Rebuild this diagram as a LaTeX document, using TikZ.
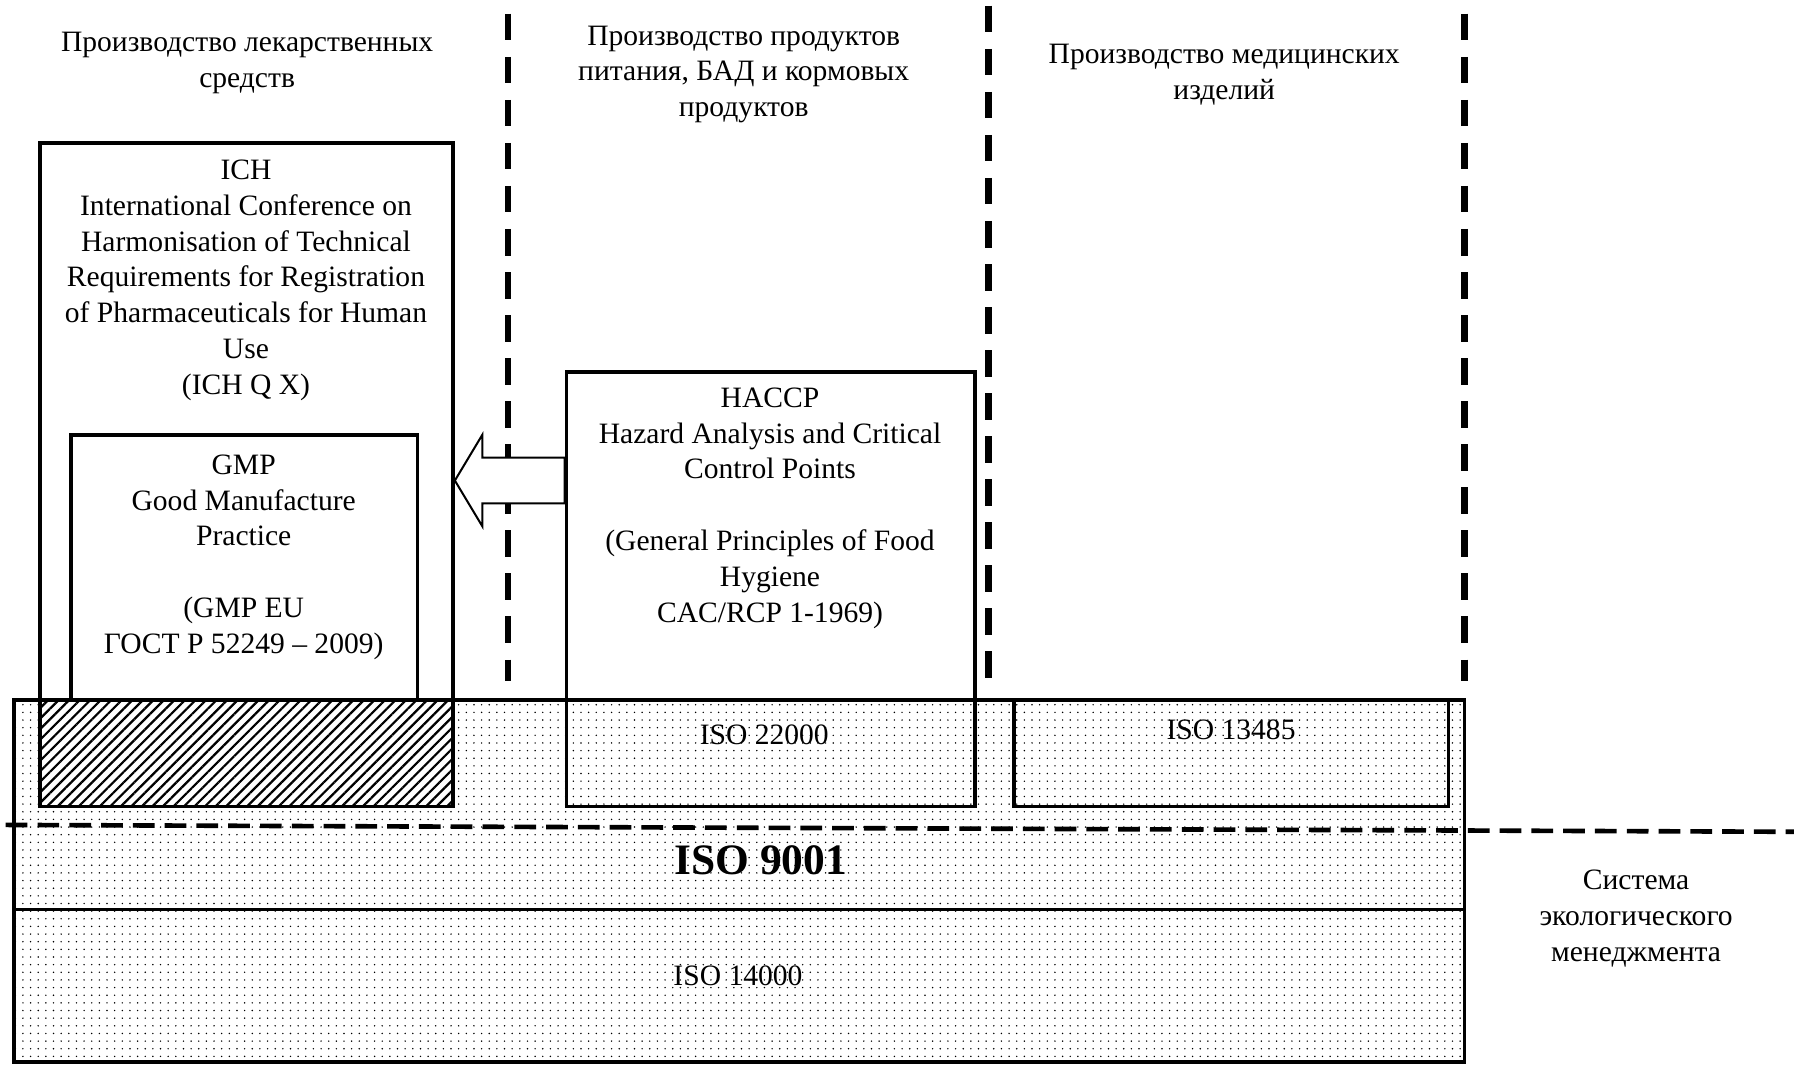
\documentclass[tikz,border=0pt]{standalone}
\usepackage{fontspec}
\setmainfont{Liberation Serif}
\usetikzlibrary{patterns.meta,fit,calc}

\tikzset{
    box/.style={draw, line width=0.9pt, inner sep=0pt},
    txt/.style={align=center, inner sep=0pt, font=\fontsize{7.35}{8.9}\selectfont},
    dotfill/.style={pattern={Dots[distance=1.9pt, radius=0.2pt]}},
    hatchfill/.style={pattern={Lines[angle=45, distance=1.85pt, line width=0.55pt]}},
    vsep/.style={line width=1.7pt, dash pattern=on 6.6pt off 4.1pt},
    hsep/.style={line width=1.15pt, dash pattern=on 5.4pt off 2.5pt}
}

\begin{document}
\begin{tikzpicture}[x=0.01cm, y=-0.01cm]
    \useasboundingbox (0,0) rectangle (1568,930);

    % Quality management base
    \path[dotfill] (12,612) rectangle (1280,928);
    \path[fill=white, postaction={hatchfill}] (35,612) rectangle (396,705);

    % Boxes
    \node[box, fit={(12,612) (1280,795)}] (iso9001) {};
    \node[box, fit={(12,795) (1280,928)}] (iso14000) {};
    \node[box, fit={(35,125) (396,705)}] (ich) {};
    \node[box, fit={(62,380) (365,612)}] (gmp) {};
    \node[box, fit={(495,325) (852,705)}] (haccp) {};
    \node[box, fit={(886,612) (1266,705)}] (iso13485) {};

    % Branch separators
    \foreach \x/\y in {444/12, 864/5, 1280/12} {
        \draw[vsep] (\x,\y) -- (\x,595);
    }

    % Hollow arrow HACCP -> ICH
    \coordinate (arrS) at (haccp.west |- 0,420);
    \coordinate (arrE) at (ich.east |- 0,420);
    \draw[fill=white, line width=0.5pt] ($(arrS)+(0,-20)$) -- ($(arrE)+(24,-20)$)
        -- ($(arrE)+(24,-40)$) -- (arrE) -- ($(arrE)+(24,40)$)
        -- ($(arrE)+(24,20)$) -- ($(arrS)+(0,20)$) -- cycle;

    % Headers
    \node[txt] (hdrDrugs) at (216,55) {Производство лекарственных\\средств};
    \node[txt] (hdrFood) at (650,65) {Производство продуктов\\питания, БАД и кормовых\\продуктов};
    \node[txt] (hdrDevices) at (1070,65) {Производство медицинских\\изделий};

    % Box texts
    \node[txt] (ichText) at (215,245) {ICH\\International Conference on\\Harmonisation of Technical\\Requirements for Registration\\of Pharmaceuticals for Human\\Use\\(ICH Q X)};
    \node[txt] (gmpText) at (213,487) {GMP\\Good Manufacture\\Practice\\[8.9pt](GMP EU\\ГОСТ Р 52249 – 2009)};
    \node[txt] (haccpText) at (673,444) {HACCP\\Hazard Analysis and Critical\\Control Points\\[8.9pt](General Principles of Food\\Hygiene\\CAC/RCP 1-1969)};
    \node[txt] (iso22000Text) at (668,642) {ISO 22000};
    \node[txt] (iso13485Text) at (1076,638) {ISO 13485};
    \node[txt, font=\fontsize{10.8}{12}\selectfont\bfseries] (iso9001Text) at (665,752) {ISO 9001};
    \node[txt] (iso14000Text) at (645,853) {ISO 14000};
    \node[txt] (ecoText) at (1430,803) {Система\\экологического\\менеджмента};

    % Environmental management boundary
    \draw[hsep] (5,721) -- (1568,727);
\end{tikzpicture}
\end{document}
